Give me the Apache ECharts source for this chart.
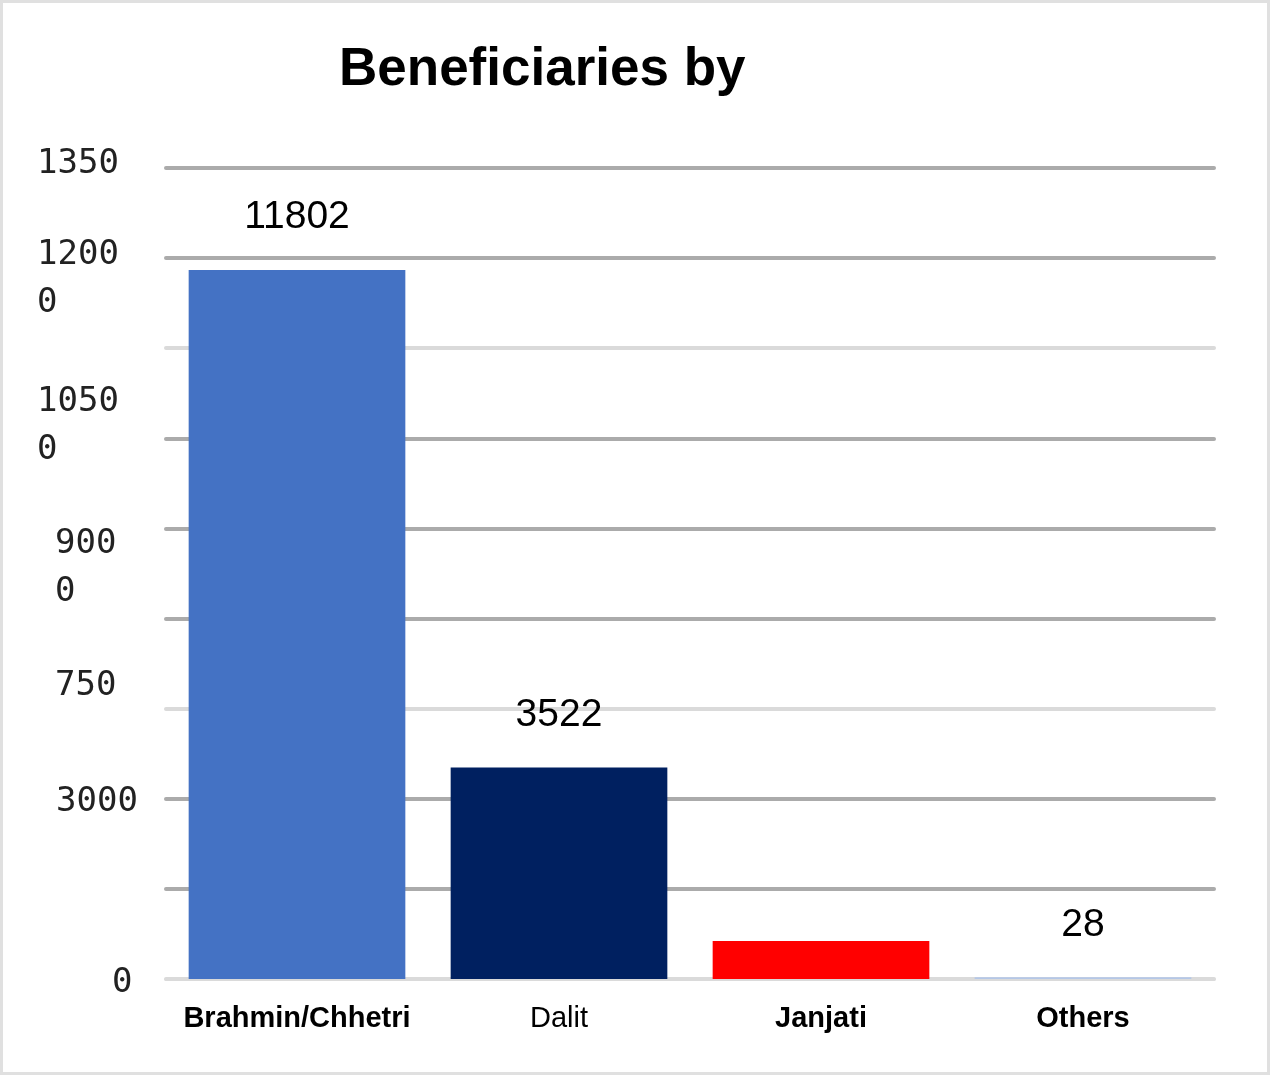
<!DOCTYPE html>
<html><head><meta charset="utf-8">
<script src="https://cdn.jsdelivr.net/npm/echarts@6/dist/echarts.min.js"></script>
<style>
html,body{margin:0;padding:0;background:#fff}
#wrap{position:relative;width:1270px;height:1075px}
#c{width:1270px;height:1075px}
#b{position:absolute;left:0;top:0;width:1270px;height:1075px;box-sizing:border-box;border:3px solid #e0e0e0;pointer-events:none}
</style>
</head><body>
<div id="wrap"><div id="c"></div><div id="b"></div></div>
<script>
const titleText = 'Beneficiaries by';
const categories = ['Brahmin/Chhetri', 'Dalit', 'Janjati', 'Others'];
const values = [11802, 3522, 633, 28];
const valueLabels = ['11802', '3522', '', '28'];
const barColors = ['#4472C4', '#002060', '#FF0000', '#B4C7E7'];
const tickValues = [0, 1500, 3000, 4500, 6000, 7500, 9000, 10500, 12000, 13500];
// tick labels as they appear (wrapped text split into first and second line)
const tickLabels = ['0', '', '3000', '', '', '750', '900\n0', '1050\n0', '1200\n0', '1350'];
const tickLines1 = tickLabels.map(t => t.split('\n')[0]);
const tickLines2 = tickLabels.map(t => t.split('\n')[1] || '');

// label placement (layout only): padding [top,right,bottom,left] per tick value
const monoBase = {fontFamily: 'DejaVu Sans Mono', fontSize: 34, lineHeight: 48, color: '#222', align: 'left'};
const pads1 = {
  0: [9, 0, 0, 75],
  3000: [7, 0, 0, 19],
  7500: [315, 0, 0, 18],
  9000: [211, 0, 0, 18],
  10500: [107, 0, 0, 0],
  12000: [0, 0, 5, 0],
  13500: [0, 0, 7, 0]
};
const pads2 = {
  9000: [307, 0, 0, 18],
  10500: [203, 0, 0, 0],
  12000: [91, 0, 0, 0]
};
function buildRich(pads) {
  const r = {};
  Object.keys(pads).forEach(v => { r['v' + v] = Object.assign({}, monoBase, {padding: pads[v]}); });
  return r;
}
function fmt(lines) {
  return (val) => {
    const idx = tickValues.indexOf(val);
    const txt = idx >= 0 ? lines[idx] : '';
    return txt ? '{v' + val + '|' + txt + '}' : '';
  };
}

const gridColors = tickValues.map((v, i) => (i === 0 || i === 3 || i === 7) ? '#dadada' : '#ababab');

const catRich = {
  b: {fontFamily: 'Liberation Sans', fontSize: 29, fontWeight: 'bold', color: '#000', lineHeight: 29},
  n: {fontFamily: 'Liberation Sans', fontSize: 29, fontWeight: 'normal', color: '#000', lineHeight: 29}
};

const yBase = {
  type: 'value', min: 0, max: 13500, interval: 1500, position: 'left',
  axisLine: {show: false}, axisTick: {show: false}
};

const chart = echarts.init(document.getElementById('c'), null, {renderer: 'canvas'});
chart.setOption({
  animation: false,
  backgroundColor: '#fff',
  title: {
    text: titleText, left: 334, top: 39,
    textStyle: {fontFamily: 'Liberation Sans', fontSize: 53, fontWeight: 'bold', color: '#000', lineHeight: 53}
  },
  grid: {left: 166, right: 56, top: 168, bottom: 96, containLabel: false, outerBoundsMode: 'none'},
  xAxis: {
    type: 'category', data: categories,
    axisLine: {show: true, lineStyle: {color: '#dadada', width: 3}},
    axisTick: {show: false},
    axisLabel: {
      margin: 25, interval: 0,
      formatter: (v) => (v === 'Dalit' ? '{n|' + v + '}' : '{b|' + v + '}'),
      rich: catRich
    }
  },
  yAxis: [
    Object.assign({}, yBase, {
      splitLine: {show: true, lineStyle: {color: gridColors, width: 4, cap: 'round'}},
      axisLabel: {margin: 129, align: 'left', formatter: fmt(tickLines1), rich: buildRich(pads1)}
    }),
    Object.assign({}, yBase, {
      offset: 0,
      splitLine: {show: false},
      axisLabel: {margin: 129, align: 'left', formatter: fmt(tickLines2), rich: buildRich(pads2)}
    })
  ],
  series: [{
    type: 'bar',
    yAxisIndex: 0,
    data: values.map((v, i) => ({value: v, itemStyle: {color: barColors[i]}})),
    barWidth: '82.7%',
    label: {
      show: true, position: 'top', distance: 33,
      fontFamily: 'Liberation Sans', fontSize: 39, lineHeight: 39, color: '#000',
      formatter: (p) => valueLabels[p.dataIndex]
    }
  }]
});
</script>
</body></html>
